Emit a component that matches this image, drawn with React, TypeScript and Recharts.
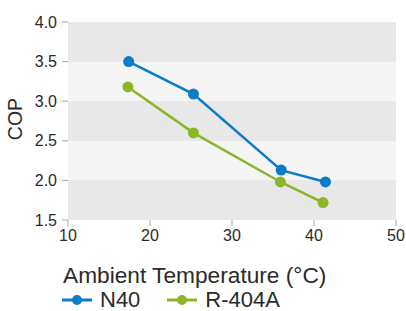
import {
  CartesianGrid,
  Label,
  Line,
  LineChart,
  XAxis,
  YAxis,
} from "recharts";

const n40Temps = [17.4, 25.3, 36.0, 41.4];
const n40Cop = [3.5, 3.09, 2.13, 1.98];
const r404aTemps = [17.3, 25.3, 35.9, 41.1];
const r404aCop = [3.18, 2.6, 1.98, 1.72];

const xTicks = [10, 20, 30, 40, 50];
const yTicks = [1.5, 2.0, 2.5, 3.0, 3.5, 4.0];

const series = [
  { key: "n40", name: "N40", color: "#0b7dc6", temps: n40Temps, values: n40Cop },
  { key: "r404a", name: "R-404A", color: "#8cb528", temps: r404aTemps, values: r404aCop },
];

const font = "'Liberation Sans', Arial, Helvetica, sans-serif";
const textColor = "#2a2a2a";

export default function App() {
  return (
    <div style={{ position: "absolute", left: 0, top: 0, width: 406, height: 311, fontFamily: font }}>
      <LineChart width={406} height={311} margin={{ top: 22, right: 10, bottom: 0, left: 0 }}>
        <CartesianGrid
          vertical={false}
          stroke="none"
          horizontalFill={["#e8e8e8", "#f5f5f5"]}
        />
        <XAxis
          type="number"
          dataKey="x"
          domain={[10, 50]}
          ticks={xTicks}
          height={91}
          axisLine={false}
          tickLine={{ stroke: "#a6a6a6" }}
          tickSize={6}
          tickMargin={4}
          tick={{ fill: textColor, fontSize: 16, fontFamily: font }}
        >
          <Label
            content={({ viewBox }: any) => (
              <text
                x={viewBox.x - 5}
                y={viewBox.y + 63}
                fill={textColor}
                fontSize={22.7}
                fontFamily={font}
              >
                Ambient Temperature (°C)
              </text>
            )}
          />
        </XAxis>
        <YAxis
          type="number"
          domain={[1.5, 4]}
          ticks={yTicks}
          width={68}
          axisLine={false}
          tickLine={{ stroke: "#a6a6a6" }}
          tickSize={6}
          tickMargin={5}
          tickFormatter={(v) => v.toFixed(1)}
          tick={{ fill: textColor, fontSize: 16, fontFamily: font }}
        >
          <Label
            content={({ viewBox }: any) => (
              <text
                x={22}
                y={viewBox.y + viewBox.height / 2 - 2}
                transform={`rotate(-90, 22, ${viewBox.y + viewBox.height / 2 - 2})`}
                textAnchor="middle"
                fill={textColor}
                fontSize={19.5}
                fontFamily={font}
              >
                COP
              </text>
            )}
          />
        </YAxis>
        {series.map((s) => (
          <Line
            key={s.key}
            data={s.temps.map((t, i) => ({ x: t, y: s.values[i] }))}
            dataKey="y"
            name={s.name}
            stroke={s.color}
            strokeWidth={2.5}
            dot={{ r: 5.5, fill: s.color, stroke: "none" }}
            activeDot={false}
            isAnimationActive={false}
          />
        ))}
      </LineChart>
      <div
        style={{
          position: "absolute",
          left: 62,
          top: 289,
          display: "flex",
          alignItems: "center",
          fontSize: 22,
          lineHeight: "22px",
          color: textColor,
        }}
      >
        {series.map((s, i) => (
          <div key={s.key} style={{ display: "flex", alignItems: "center", marginRight: i === 0 ? 27 : 0 }}>
            <svg width={30} height={12} style={{ marginRight: 8 }}>
              <line x1={0} y1={6} x2={30} y2={6} stroke={s.color} strokeWidth={3} />
              <circle cx={15} cy={6} r={5} fill={s.color} />
            </svg>
            <span>{s.name}</span>
          </div>
        ))}
      </div>
    </div>
  );
}
